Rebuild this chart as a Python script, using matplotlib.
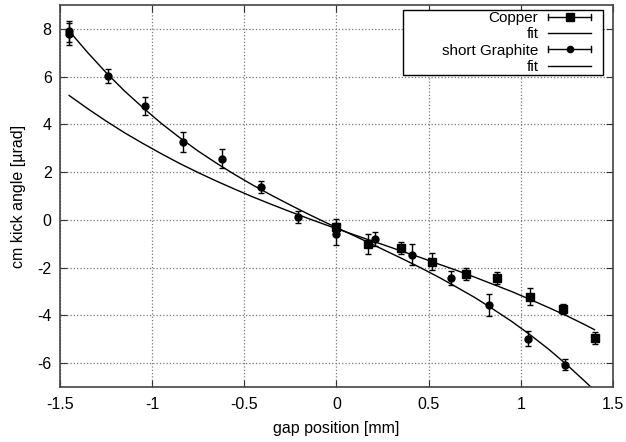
import numpy as np
import matplotlib
matplotlib.use("Agg")
import matplotlib.pyplot as plt
from matplotlib.legend_handler import HandlerBase
from matplotlib.lines import Line2D

plt.rcParams['font.family'] = ['Liberation Sans', 'DejaVu Sans']
plt.rcParams['axes.unicode_minus'] = False

# copper measurements
cu_x = [0.0, 0.17, 0.35, 0.52, 0.70, 0.87, 1.05, 1.23, 1.40]
cu_y = [-0.28, -1.01, -1.16, -1.75, -2.27, -2.42, -3.22, -3.74, -4.93]
cu_err = [0.3, 0.4, 0.25, 0.35, 0.25, 0.25, 0.35, 0.2, 0.25]

# short graphite measurements
gr_x = [-1.45, -1.45, -1.24, -1.04, -0.83, -0.62, -0.41, -0.21, 0.0, 0.21, 0.41, 0.62, 0.83, 1.04, 1.24]
gr_y = [7.90, 7.78, 6.02, 4.76, 3.25, 2.56, 1.36, 0.12, -0.60, -0.79, -1.46, -2.44, -3.57, -4.97, -6.06]
gr_err = [0.45, 0.45, 0.28, 0.37, 0.42, 0.40, 0.25, 0.25, 0.45, 0.30, 0.45, 0.30, 0.45, 0.30, 0.22]

# fit curves
cu_fit_x = [-1.45, -1.35, -1.25, -1.15, -1.05, -0.95, -0.85, -0.75, -0.65, -0.55,
            -0.45, -0.35, -0.25, -0.15, -0.05, 0.05, 0.15, 0.25, 0.35, 0.45,
            0.55, 0.65, 0.75, 0.85, 0.95, 1.05, 1.15, 1.25, 1.35, 1.40]
cu_fit_y = [5.21, 4.66, 4.14, 3.65, 3.20, 2.77, 2.36, 1.98, 1.62, 1.28,
            0.95, 0.64, 0.34, 0.05, -0.23, -0.50, -0.77, -1.03, -1.30, -1.56,
            -1.84, -2.11, -2.40, -2.70, -3.00, -3.33, -3.67, -4.02, -4.40, -4.60]
gr_fit_x = [-1.45, -1.35, -1.25, -1.15, -1.05, -0.95, -0.85, -0.75, -0.65, -0.55,
            -0.45, -0.35, -0.25, -0.15, -0.05, 0.05, 0.15, 0.25, 0.35, 0.45,
            0.55, 0.65, 0.75, 0.85, 0.95, 1.05, 1.15, 1.25, 1.35, 1.38]
gr_fit_y = [7.91, 7.01, 6.17, 5.40, 4.70, 4.04, 3.44, 2.88, 2.37, 1.89,
            1.44, 1.02, 0.62, 0.23, -0.14, -0.50, -0.86, -1.23, -1.60, -1.98,
            -2.38, -2.81, -3.25, -3.74, -4.25, -4.81, -5.41, -6.07, -6.78, -7.0]

x_ticks = [-1.5, -1, -0.5, 0, 0.5, 1, 1.5]
x_labels = ['-1.5', '-1', '-0.5', '0', '0.5', '1', '1.5']
y_ticks = [-6, -4, -2, 0, 2, 4, 6, 8]


class KeySample(HandlerBase):
    # gnuplot style key sample: short line, optional end caps and marker,
    # leaving some blank room on the right like gnuplot does
    def __init__(self, marker=None):
        super().__init__()
        self.marker = marker

    def create_artists(self, legend, orig_handle, xdescent, ydescent,
                       width, height, fontsize, trans):
        y = height / 2 - ydescent
        x0 = -xdescent
        x1 = x0 + width * 0.81
        arts = [Line2D([x0, x1], [y, y], color='black', lw=1)]
        if self.marker:
            cap = height * 0.28
            arts.append(Line2D([x0, x0], [y - cap, y + cap], color='black', lw=1))
            arts.append(Line2D([x1, x1], [y - cap, y + cap], color='black', lw=1))
            ms = 5.5 if self.marker == 's' else 4.5
            arts.append(Line2D([(x0 + x1) / 2], [y], marker=self.marker,
                               color='black', ms=ms, ls='none'))
        for a in arts:
            a.set_transform(trans)
        return arts


fig = plt.figure(figsize=(6.26, 4.42), dpi=100)
ax = fig.add_axes([0.0958, 0.1244, 0.8834, 0.8643])

ax.errorbar(cu_x, cu_y, yerr=cu_err, fmt='s', color='black', ms=5.5,
            capsize=2.5, elinewidth=1, capthick=1, zorder=3)
ax.plot(cu_fit_x, cu_fit_y, color='black', lw=1, zorder=2)
ax.errorbar(gr_x, gr_y, yerr=gr_err, fmt='o', color='black', ms=5,
            capsize=2.5, elinewidth=1, capthick=1, zorder=3)
ax.plot(gr_fit_x, gr_fit_y, color='black', lw=1, zorder=2)

ax.set_xlim(-1.5, 1.5)
ax.set_ylim(-7, 9)
ax.set_xticks(x_ticks)
ax.set_xticklabels(x_labels)
ax.set_yticks(y_ticks)
ax.grid(True, linestyle=':', color='#777777', linewidth=0.9)
ax.tick_params(axis='x', pad=7)
ax.tick_params(axis='y', pad=6)
ax.tick_params(direction='in', length=5, top=True, right=True,
               labelsize=11.5, color='#333333')
for s in ax.spines.values():
    s.set_color('#444444')
    s.set_linewidth(1.2)

ax.set_xlabel('gap position [mm]', fontsize=11.5, labelpad=7)
ax.set_ylabel('cm kick angle [µrad]', fontsize=11.5, labelpad=8)

keys = [object() for _ in range(4)]
leg = ax.legend(keys, ['Copper', 'fit', 'short Graphite', 'fit'],
                handler_map={keys[0]: KeySample('s'), keys[1]: KeySample(),
                             keys[2]: KeySample('o'), keys[3]: KeySample()},
                loc='upper right', bbox_to_anchor=(0.620, 0.5, 0.362, 0.487),
                mode='expand', markerfirst=False, alignment='right', fontsize=11,
                handlelength=3.55, handletextpad=0.6, labelspacing=0.15,
                borderpad=0.08, borderaxespad=0, fancybox=False, framealpha=1,
                edgecolor='black')
# keep the wide gnuplot-like box but push the entries to its right side
leg._legend_handle_box.mode = 'fixed'
leg.get_frame().set_linewidth(1)

fig.savefig('out.png', dpi=100)
